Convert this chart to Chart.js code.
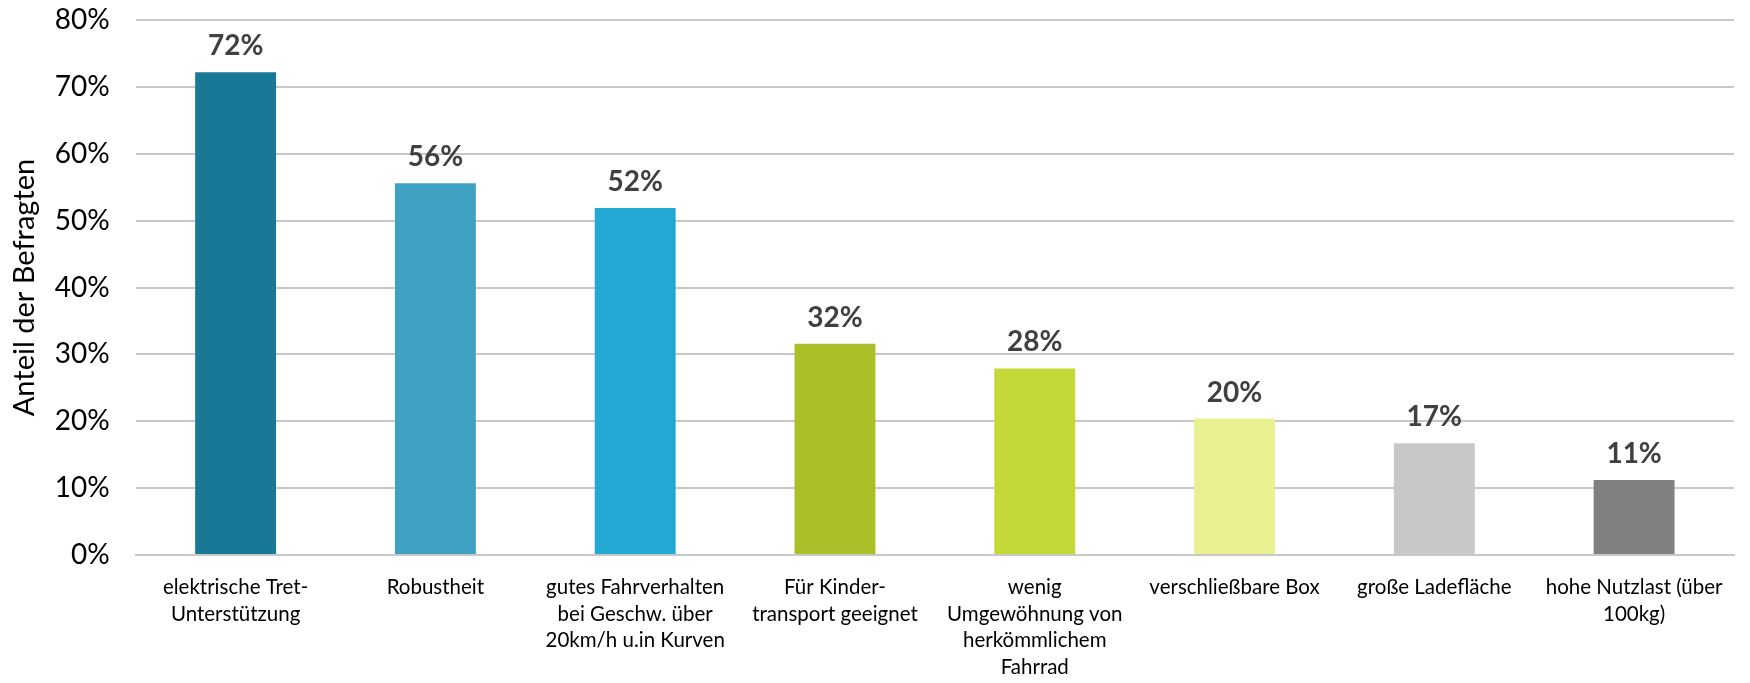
<!DOCTYPE html>
<html>
<head>
<meta charset="utf-8">
<script src="https://cdn.jsdelivr.net/npm/chart.js@4/dist/chart.umd.min.js"></script>
<style>
  html, body { margin: 0; padding: 0; background: #fff; }
  #wrap { width: 1750px; height: 683px; }
</style>
</head>
<body>
<div id="wrap"><canvas id="chart"></canvas></div>
<script>
// categories (multi-line labels as in the original)
const categories = [
    ["elektrische Tret-", "Unterstützung"],
    "Robustheit",
    ["gutes Fahrverhalten", "bei Geschw. über", "20km/h u.in Kurven"],
    ["Für Kinder-", "transport geeignet"],
    ["wenig", "Umgewöhnung von", "herkömmlichem", "Fahrrad"],
    "verschließbare Box",
    "große Ladefläche",
    ["hohe Nutzlast (über", "100kg)"]
];
const shares = [72.2, 55.6, 51.9, 31.6, 27.9, 20.4, 16.7, 11.2];
const shareLabels = ["72%", "56%", "52%", "32%", "28%", "20%", "17%", "11%"];
const barColors = ["#187896", "#40A2C3", "#21A9D3", "#ABBF28", "#C4D937", "#E8F08F", "#C8C8C8", "#808080"];
const yTicks = [0, 10, 20, 30, 40, 50, 60, 70, 80];

const fontFamily = "Lato, 'Open Sans', sans-serif";

// draws the percentage above each bar
const valueLabels = {
    id: "valueLabels",
    afterDatasetsDraw(chart) {
        const ctx = chart.ctx;
        const meta = chart.getDatasetMeta(0);
        ctx.save();
        ctx.font = "bold 28px " + fontFamily;
        ctx.fillStyle = "#404040";
        ctx.textAlign = "center";
        ctx.textBaseline = "bottom";
        meta.data.forEach((bar, i) => {
            ctx.fillText(shareLabels[i], bar.x, bar.y - 12);
        });
        ctx.restore();
    }
};

new Chart(document.getElementById("chart"), {
    type: "bar",
    data: {
        labels: categories,
        datasets: [{
            data: shares,
            backgroundColor: barColors,
            borderWidth: 0,
            categoryPercentage: 1.0,
            barPercentage: 0.405
        }]
    },
    options: {
        responsive: true,
        maintainAspectRatio: false,
        animation: false,
        layout: { padding: { top: 20, right: 16, bottom: 0, left: 3 } },
        plugins: {
            legend: { display: false },
            tooltip: { enabled: false }
        },
        scales: {
            x: {
                grid: { display: false, drawTicks: false },
                border: { display: true, color: "#C8C8C8", width: 2 },
                afterFit: axis => { axis.height = 128; },
                ticks: {
                    color: "#000",
                    maxRotation: 0,
                    autoSkip: false,
                    padding: 19,
                    font: { family: fontFamily, size: 20.5, lineHeight: 1.3 }
                }
            },
            y: {
                min: 0,
                max: 80,
                afterBuildTicks: axis => { axis.ticks = yTicks.map(v => ({ value: v })); },
                afterFit: axis => { axis.paddingTop = 0; axis.width -= 17; },
                grid: { color: "#C8C8C8", lineWidth: 2, drawTicks: false },
                border: { display: false },
                ticks: {
                    color: "#000",
                    padding: 26,
                    font: { family: fontFamily, size: 28 },
                    callback: v => v + "%"
                },
                title: {
                    display: true,
                    text: "Anteil der Befragten",
                    color: "#000",
                    font: { family: fontFamily, size: 29 },
                    padding: { bottom: 4 }
                }
            }
        }
    },
    plugins: [valueLabels]
});
</script>
</body>
</html>
